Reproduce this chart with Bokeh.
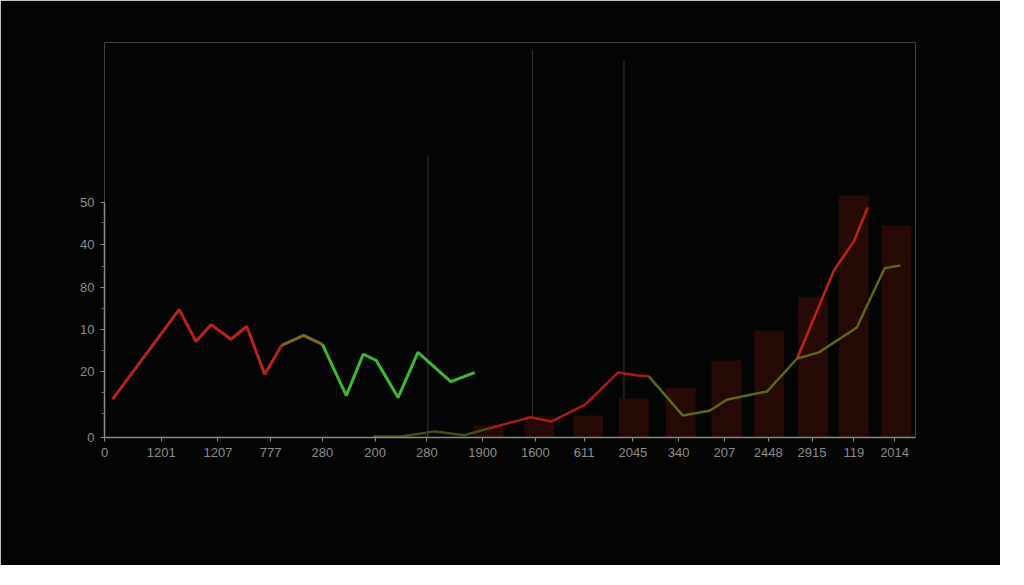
from bokeh.plotting import figure
from bokeh.models import FixedTicker
from bokeh.embed import file_html
from bokeh.resources import INLINE

# ---- data ----
x_tick_pos = [0, 5.7, 11.4, 16.7, 21.9, 27.2, 32.4, 38.0, 43.3, 48.2, 53.1, 57.7, 62.3, 66.7, 71.1, 75.3, 79.4]
x_tick_labels = ["0", "1201", "1207", "777", "280", "200", "280", "1900", "1600", "611",
                 "2045", "340", "207", "2448", "2915", "119", "2014"]
y_tick_pos = [0, 14, 23, 32, 41, 50]
y_tick_labels = ["0", "20", "10", "80", "40", "50"]
y_minor_pos = [5.1, 9.6, 18.5, 27.4, 36.4, 45.7]

# left series: red part, transition part, green part
red1_x = [0.8, 7.5, 9.2, 10.7, 12.7, 14.3, 16.1, 17.8]
red1_y = [8.1, 27.2, 20.4, 24.0, 20.9, 23.6, 13.4, 19.6]
mix1_x = [17.8, 20.0, 21.9]
mix1_y = [19.6, 21.7, 19.8]
green1_x = [21.9, 24.3, 26.0, 27.3, 29.5, 31.5, 34.8, 37.2]
green1_y = [19.8, 8.9, 17.7, 16.4, 8.5, 18.1, 11.9, 13.8]

# right series
olive_low_x = [27.0, 29.8, 33.2, 36.2, 38.6]
olive_low_y = [0.2, 0.2, 1.3, 0.5, 1.9]
red2_x = [38.6, 42.8, 44.9, 48.3, 51.6, 53.6, 54.7]
red2_y = [1.9, 4.3, 3.4, 7.0, 13.8, 13.2, 13.0]
olive_x = [54.7, 58.1, 60.8, 62.6, 66.6, 69.6, 71.8, 75.6, 78.4, 80.0]
olive_y = [13.0, 4.7, 5.7, 8.1, 9.8, 16.8, 18.1, 23.4, 36.0, 36.6]
red3_x = [69.6, 73.3, 75.3, 76.7]
red3_y = [16.8, 35.5, 41.7, 48.9]

bar_x = [38.6, 43.7, 48.6, 53.2, 57.9, 62.5, 66.8, 71.2, 75.3, 79.6]
bar_v = [2.6, 4.5, 4.7, 8.3, 10.6, 16.4, 22.8, 29.8, 51.5, 45.1]

vline_x = [32.5, 43.0, 52.2]
vline_top = [60.0, 82.3, 80.2]

BG = "#040404"

# ---- figure ----
p = figure(width=1000, height=565, output_backend="svg", toolbar_location=None,
           x_range=(0, 81.5), y_range=(0, 84),
           min_border_left=104, min_border_right=85, min_border_top=42, min_border_bottom=128,
           background_fill_color=BG, border_fill_color=BG,
           outline_line_color=BG, outline_line_alpha=0.0)
p.grid.grid_line_color = None

# decorative vertical lines
p.segment(x0=vline_x, y0=[0, 0, 0], x1=vline_x, y1=vline_top,
          line_color="#363636", line_width=1)

# bars
p.vbar(x=bar_x, top=bar_v, bottom=0, width=3.0, fill_color="#260805",
       line_color=None)

# lines
p.line(red1_x, red1_y, line_color="#b8231f", line_width=3)
p.line(mix1_x, mix1_y, line_color="#7a6a1c", line_width=3)
p.line(green1_x, green1_y, line_color="#3cb834", line_width=3)

p.line(olive_low_x, olive_low_y, line_color="#3f5212", line_width=2.5)
p.line(red2_x, red2_y, line_color="#a81e16", line_width=2.5)
p.line(red3_x, red3_y, line_color="#bb2219", line_width=2.5)
p.line(olive_x, olive_y, line_color="#5a6a14", line_width=2.5)

# axes
font = "Liberation Sans"
p.xaxis.ticker = FixedTicker(ticks=x_tick_pos)
p.xaxis.major_label_overrides = {t: l for t, l in zip(x_tick_pos, x_tick_labels)}
p.yaxis.ticker = FixedTicker(ticks=y_tick_pos, minor_ticks=y_minor_pos)
p.yaxis.major_label_overrides = {t: l for t, l in zip(y_tick_pos, y_tick_labels)}
p.yaxis.bounds = (0, 50)

for ax in (p.xaxis, p.yaxis):
    ax.axis_line_color = "#8a8a8a"
    ax.axis_line_width = 1.5
    ax.major_tick_line_color = "#8a8a8a"
    ax.minor_tick_line_color = "#6a6a6a"
    ax.major_tick_out = 4
    ax.major_tick_in = 0
    ax.minor_tick_out = 3
    ax.minor_tick_in = 0
    ax.major_label_text_color = "#8c8c8c"
    ax.major_label_text_font = font
    ax.major_label_text_font_size = "13px"
p.xaxis.minor_tick_line_color = None
p.xaxis.major_label_standoff = 6
p.yaxis.major_label_standoff = 6

open("out.html", "w").write(file_html(p, INLINE))
